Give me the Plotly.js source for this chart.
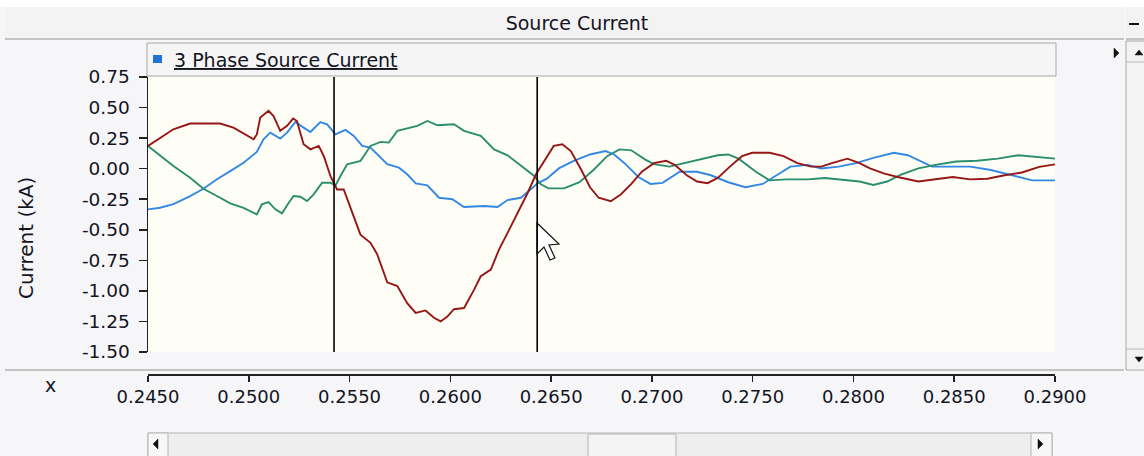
<!DOCTYPE html>
<html>
<head>
<meta charset="utf-8">
<script src="https://cdn.plot.ly/plotly-3.0.1.min.js"></script>
<style>
  html, body { margin: 0; padding: 0; background: #ffffff; }
  #chart { width: 1144px; height: 456px; }
</style>
</head>
<body>
<div id="chart"></div>
<script>
// ---------------- data (time in s, current in kA) ----------------
const phaseA_t = [0.2450, 0.24560, 0.24626, 0.24709, 0.24775, 0.24842, 0.24908, 0.24974, 0.25040, 0.25073,
  0.25107, 0.25156, 0.25190, 0.25231, 0.25272, 0.25306, 0.25355, 0.25389, 0.25430, 0.25480,
  0.25521, 0.25563, 0.25604, 0.25637, 0.25687, 0.25745, 0.25786, 0.25828, 0.25886, 0.25944,
  0.26010, 0.26068, 0.26167, 0.26234, 0.26284, 0.26350, 0.26399, 0.26433,
  0.26479, 0.26538, 0.26607, 0.26693, 0.26770, 0.26813, 0.26864, 0.26933, 0.26993, 0.27053,
  0.27138, 0.27224, 0.27293, 0.27379, 0.27464, 0.27550, 0.27619, 0.27687, 0.27773, 0.27841,
  0.27927, 0.28013, 0.28099, 0.28201, 0.28270, 0.28339, 0.28390, 0.28493, 0.28579, 0.28682,
  0.28785, 0.28887, 0.29000];
const phaseA_i = [-0.333, -0.32, -0.29, -0.224, -0.164, -0.087, -0.02, 0.049, 0.137, 0.24,
  0.295, 0.246, 0.295, 0.382, 0.336, 0.3, 0.382, 0.363, 0.281, 0.317,
  0.268, 0.186, 0.172, 0.117, 0.036, 0.008, -0.046, -0.12, -0.137, -0.238,
  -0.25, -0.314, -0.306, -0.314, -0.257, -0.238, -0.169, -0.12,
  -0.082, 0.002, 0.059, 0.116, 0.144, 0.116, 0.045, -0.068, -0.125, -0.116,
  -0.025, -0.025, -0.054, -0.111, -0.152, -0.125, -0.054, 0.017, 0.031, 0.002,
  0.017, 0.045, 0.088, 0.13, 0.11, 0.059, 0.017, 0.017, 0.017, -0.011,
  -0.054, -0.096, -0.096];

const phaseB_t = [0.2450, 0.24560, 0.24626, 0.24709, 0.24775, 0.24842, 0.24908, 0.24974, 0.25040, 0.25065,
  0.25098, 0.25132, 0.25165, 0.25190, 0.25222, 0.25256, 0.25289, 0.25322, 0.25364, 0.25405,
  0.25430, 0.25455, 0.25488, 0.25554, 0.25604, 0.25654, 0.25695, 0.25737, 0.25786, 0.25836,
  0.25886, 0.25936, 0.26018, 0.26068, 0.26151, 0.26217, 0.26284, 0.26350, 0.26416, 0.26449,
  0.26487, 0.26564, 0.26641, 0.26710, 0.26778, 0.26839, 0.26898, 0.26967, 0.27010, 0.27087,
  0.27156, 0.27241, 0.27327, 0.27379, 0.27430, 0.27516, 0.27584, 0.27670, 0.27773, 0.27858,
  0.27944, 0.28030, 0.28099, 0.28167, 0.28236, 0.28322, 0.28407, 0.28510, 0.28613, 0.28716,
  0.28819, 0.28922, 0.29000];
const phaseB_i = [0.186, 0.109, 0.022, -0.074, -0.164, -0.224, -0.284, -0.32, -0.374, -0.292,
  -0.273, -0.333, -0.366, -0.3, -0.224, -0.23, -0.265, -0.21, -0.115, -0.115,
  -0.137, -0.06, 0.036, 0.063, 0.186, 0.219, 0.213, 0.309, 0.328, 0.35,
  0.39, 0.355, 0.363, 0.309, 0.268, 0.158, 0.109, 0.022, -0.06, -0.128,
  -0.161, -0.161, -0.111, -0.011, 0.102, 0.158, 0.15, 0.074, 0.037, 0.017,
  0.045, 0.074, 0.11, 0.116, 0.082, -0.025, -0.096, -0.088, -0.088, -0.076,
  -0.088, -0.105, -0.133, -0.105, -0.048, 0.002, 0.031, 0.059, 0.065, 0.082,
  0.11, 0.095, 0.082];

const phaseC_t = [0.2450, 0.24560, 0.24626, 0.24709, 0.24858, 0.24924, 0.25024, 0.25040, 0.25057, 0.25098,
  0.25123, 0.25156, 0.25190, 0.25220, 0.25239, 0.25272, 0.25306, 0.25347, 0.25372, 0.25405,
  0.25430, 0.25438, 0.25471, 0.25504, 0.25554, 0.25604, 0.25637, 0.25687, 0.25737, 0.25786,
  0.25828, 0.25877, 0.25919, 0.25952, 0.25985, 0.26018, 0.26068, 0.26118, 0.26151, 0.26201,
  0.26242, 0.26284, 0.26334, 0.26384, 0.26425,
  0.26470, 0.26513, 0.26556, 0.26598, 0.26650, 0.26693, 0.26736, 0.26796, 0.26847, 0.26898,
  0.26950, 0.27010, 0.27070, 0.27113, 0.27173, 0.27224, 0.27276, 0.27327, 0.27387, 0.27447,
  0.27498, 0.27584, 0.27653, 0.27722, 0.27790, 0.27841, 0.27893, 0.27970, 0.28030, 0.28082,
  0.28150, 0.28219, 0.28322, 0.28407, 0.28493, 0.28579, 0.28664, 0.28750, 0.28836, 0.28922,
  0.29000];
const phaseC_i = [0.186, 0.254, 0.322, 0.369, 0.369, 0.336, 0.24, 0.28, 0.418, 0.473,
  0.43, 0.31, 0.35, 0.41, 0.39, 0.2, 0.158, 0.186, 0.104, -0.06,
  -0.142, -0.17, -0.17, -0.32, -0.54, -0.607, -0.70, -0.93, -0.96, -1.10,
  -1.18, -1.16, -1.22, -1.25, -1.21, -1.15, -1.14, -0.99, -0.88, -0.825,
  -0.66, -0.525, -0.36, -0.197, -0.046,
  0.074, 0.186, 0.2, 0.144, -0.011, -0.152, -0.238, -0.266, -0.209, -0.125,
  -0.025, 0.045, 0.065, 0.031, -0.054, -0.105, -0.119, -0.076, 0.017, 0.102,
  0.13, 0.13, 0.102, 0.045, 0.017, 0.017, 0.045, 0.082, 0.045, 0.002,
  -0.039, -0.068, -0.105, -0.088, -0.068, -0.088, -0.082, -0.054, -0.031, 0.015,
  0.035];

const cursorTimes = [0.25423, 0.26431];
const yTickVals = [0.75, 0.5, 0.25, 0, -0.25, -0.5, -0.75, -1.0, -1.25, -1.5];
const yTickText = ['0.75', '0.50', '0.25', '0.00', '-0.25', '-0.50', '-0.75', '-1.00', '-1.25', '-1.50'];
const xRange = [0.245, 0.29];
const yRange = [-1.5, 0.75];
const seriesNames = ['Ia', 'Ib', 'Ic'];
const seriesColors = ['#3388e3', '#2a8d6d', '#961616'];

// ---------------- layout helpers ----------------
const W = 1144, H = 456;
const L = 148, R = 1055, T = 77, B = 374, PB = 352;
const PW = R - L, PH = B - T;
const px = v => (v - L) / PW;           // pixel x -> paper x
const py = v => (B - v) / PH;           // pixel y -> paper y
const FONT = 'DejaVu Sans, Arial, sans-serif';
const TXT = '#14141e';
const FS = 19;

function rectPx(x0, y0, x1, y1, fill, line, lw) {
  return { type: 'rect', xref: 'paper', yref: 'paper', x0: px(x0), x1: px(x1), y0: py(y1), y1: py(y0),
    fillcolor: fill, line: { color: line || 'rgba(0,0,0,0)', width: line ? (lw || 1) : 0 }, layer: 'below' };
}
function linePx(x0, y0, x1, y1, color, w, layer) {
  return { type: 'line', xref: 'paper', yref: 'paper', x0: px(x0), x1: px(x1), y0: py(y0), y1: py(y1),
    line: { color: color, width: w }, layer: layer || 'below' };
}
function pathPx(pts, fill, line, lw, layer) {
  const d = pts.map((p, i) => (i ? 'L' : 'M') + px(p[0]) + ',' + py(p[1])).join(' ') + ' Z';
  return { type: 'path', xref: 'paper', yref: 'paper', path: d, fillcolor: fill,
    line: { color: line || fill, width: lw || 0.5 }, layer: layer || 'above' };
}

const traces = [
  [phaseA_t, phaseA_i], [phaseB_t, phaseB_i], [phaseC_t, phaseC_i]
].map((d, k) => ({
  type: 'scatter', mode: 'lines', x: d[0], y: d[1], name: seriesNames[k],
  line: { color: seriesColors[k], width: 1.9, shape: 'linear' },
  showlegend: false, hoverinfo: 'x+y'
}));

const shapes = [
  // white top strip and panel backgrounds
  rectPx(0, 0, W, 7, '#ffffff'),
  rectPx(5, 7, 1124, 38, '#f3f3f4'),
  linePx(5, 39, 1124, 39, '#c4c4c4', 2),
  rectPx(1126, 7, W, 38, '#f3f3f4'),
  linePx(1126, 39, W, 39, '#c4c4c4', 2),
  // legend strip
  rectPx(147, 43, 1056, 76, '#f5f5f6', '#a8a8a8', 1),
  // plot area
  { type: 'rect', xref: 'x domain', yref: 'y domain', x0: 0, x1: 1, y0: 0, y1: 1,
    fillcolor: '#fefef6', line: { width: 0 }, layer: 'below' },
  // separator under plot
  linePx(5, 370, 1124, 370, '#c4c4c4', 2),
  // right vertical scrollbar
  rectPx(1126, 41, W + 2, 370, '#f3f3f4', '#a8a8a8', 1),
  linePx(1126, 62, W, 62, '#b8b8b8', 1),
  linePx(1126, 349, W, 349, '#b8b8b8', 1),
  pathPx([[1135, 55], [1143, 55], [1139, 50]], '#111'),
  pathPx([[1135, 357], [1143, 357], [1139, 362]], '#111'),
  // small right triangle at legend end
  pathPx([[1114, 48], [1119, 53], [1114, 58]], '#111'),
  // minimise dash
  linePx(1129, 24, 1139, 24, '#111', 2, 'above'),
  // horizontal scrollbar
  rectPx(148, 433, 1052, 458, '#eeeeef', '#b4b4b4', 1),
  rectPx(588, 434, 676, 458, '#f4f4f5', '#b4b4b4', 1),
  rectPx(148, 433, 168, 458, '#f7f7f8', '#b4b4b4', 1),
  rectPx(1031, 433, 1052, 458, '#f7f7f8', '#b4b4b4', 1),
  pathPx([[158, 439], [158, 449], [153, 444]], '#111'),
  pathPx([[1038, 439], [1038, 449], [1043, 444]], '#111'),
  // legend colour swatch
  rectPx(153, 55, 162, 63, '#1f72d8'),
  // mouse pointer
  pathPx([[537, 223], [537, 254], [544, 247], [550, 260], [555, 258], [549, 245], [559, 244]], '#ffffff', '#111', 1.2)
];
// cursor marker lines (at data times)
cursorTimes.forEach(t => shapes.push({
  type: 'line', xref: 'x', yref: 'y domain', x0: t, x1: t, y0: 0, y1: 1,
  line: { color: '#000', width: 1.6 }, layer: 'above'
}));

const annotations = [
  { text: '<u>3 Phase Source Current</u>', xref: 'paper', yref: 'paper', x: px(172), y: py(60),
    xanchor: 'left', yanchor: 'middle', showarrow: false, font: { family: FONT, size: FS, color: TXT } },
  { text: 'Current (kA)', xref: 'paper', yref: 'paper', x: px(26), y: py(238), textangle: -90,
    xanchor: 'center', yanchor: 'middle', showarrow: false, font: { family: FONT, size: 20, color: TXT } },
  { text: 'x', xref: 'paper', yref: 'paper', x: px(50), y: py(385),
    xanchor: 'center', yanchor: 'middle', showarrow: false, font: { family: FONT, size: FS, color: TXT } }
];

const layout = {
  width: W, height: H,
  paper_bgcolor: '#f6f6f8', plot_bgcolor: 'rgba(0,0,0,0)',
  margin: { l: L, r: W - R, t: T, b: H - B, pad: 0 },
  showlegend: false,
  font: { family: FONT, size: FS, color: TXT },
  title: { text: 'Source Current', x: 577 / W, xref: 'container', xanchor: 'center',
    y: 1 - 23 / H, yref: 'container', yanchor: 'middle', font: { family: FONT, size: FS, color: TXT } },
  xaxis: {
    range: xRange, anchor: 'free', position: 0,
    tick0: 0.245, dtick: 0.005, tickformat: '.4f',
    showgrid: false, zeroline: false, showline: true, linecolor: '#222', linewidth: 1.5,
    ticks: 'outside', ticklen: 6, tickwidth: 1.5, tickcolor: '#222',
    tickfont: { family: FONT, size: 18, color: TXT }, fixedrange: true
  },
  yaxis: {
    range: yRange, domain: [(B - PB) / PH, 1], anchor: 'x',
    tickvals: yTickVals, ticktext: yTickText,
    showgrid: false, zeroline: false, showline: true, linecolor: '#222', linewidth: 1.5,
    ticks: 'outside', ticklen: 8, tickwidth: 1.5, tickcolor: '#222', ticklabelstandoff: 5,
    tickfont: { family: FONT, size: 18.5, color: TXT }, fixedrange: true
  },
  shapes: shapes,
  annotations: annotations
};

Plotly.newPlot('chart', traces, layout, { displayModeBar: false, staticPlot: true });
</script>
</body>
</html>
